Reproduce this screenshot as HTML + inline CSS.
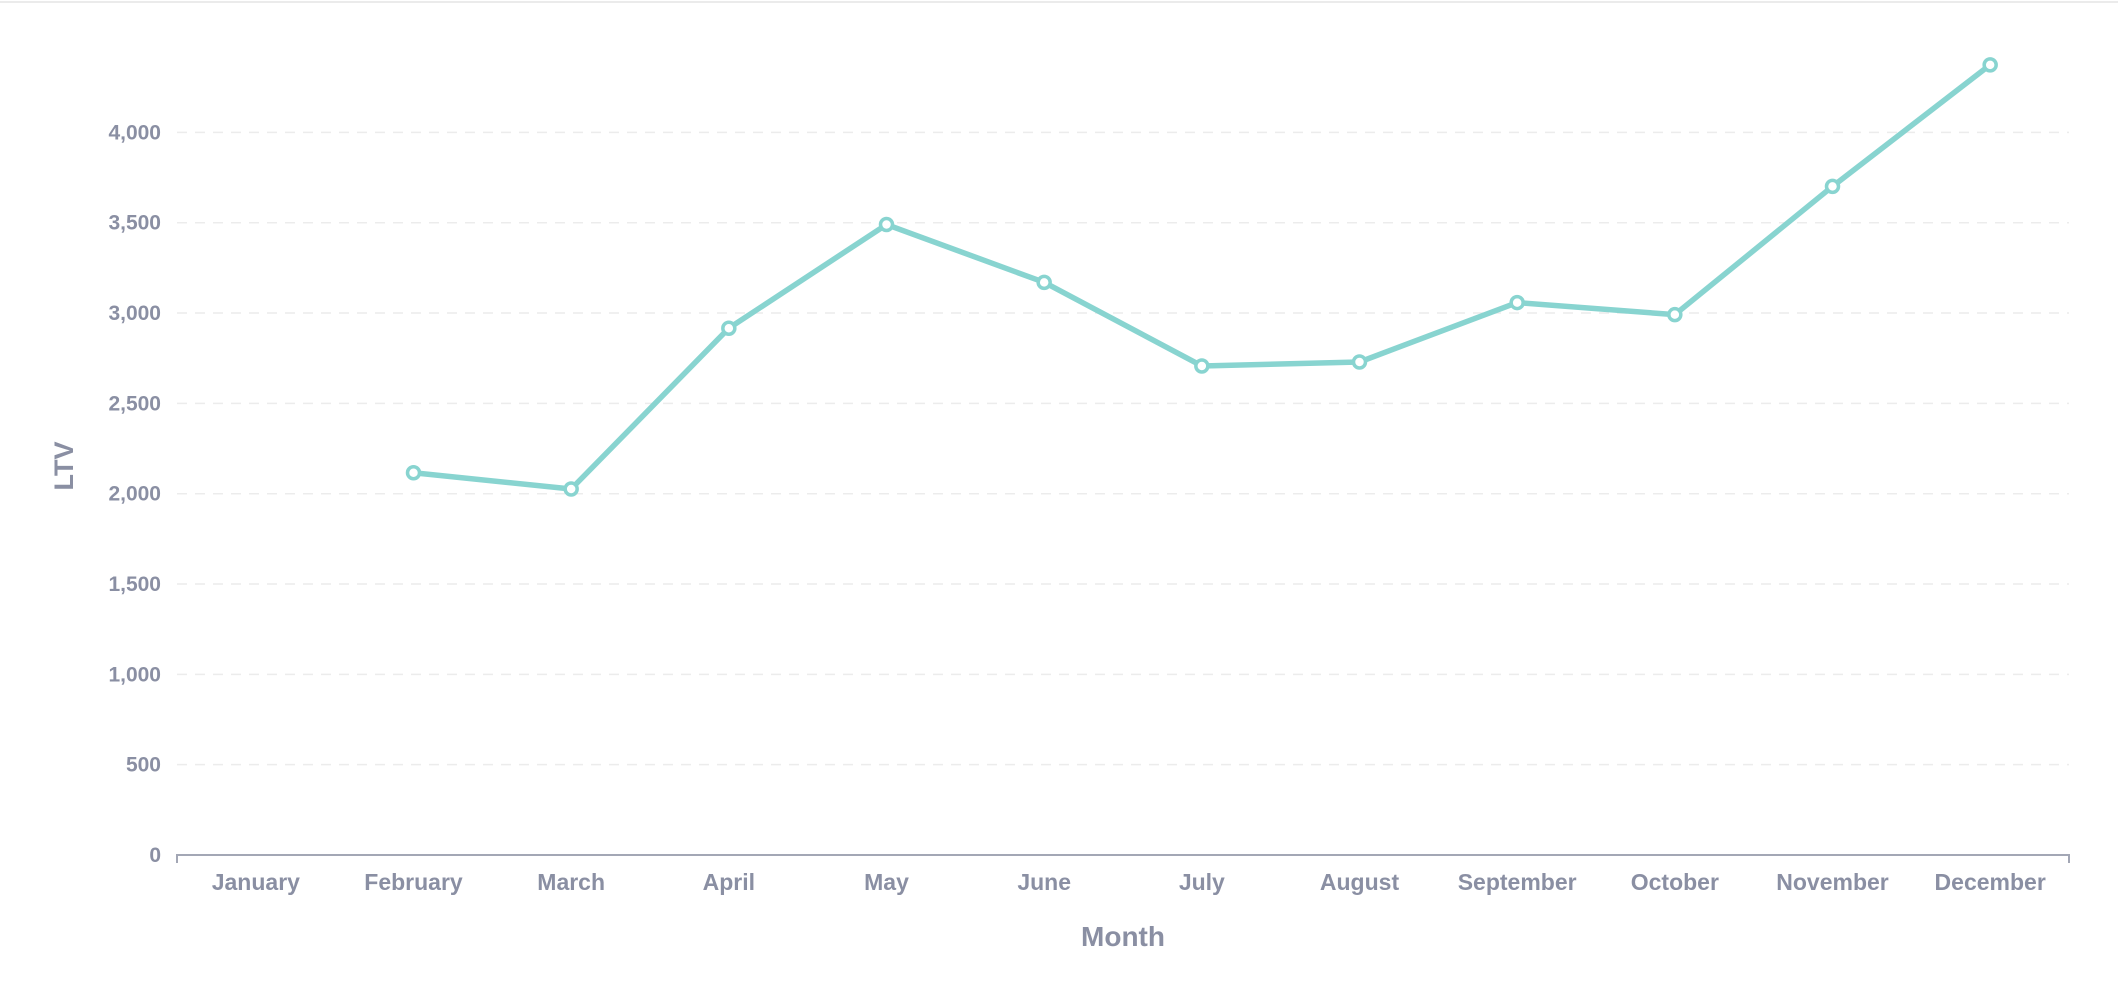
<!DOCTYPE html>
<html><head><meta charset="utf-8"><style>
html,body{margin:0;padding:0;background:#fff;width:2118px;height:982px;overflow:hidden}
svg{display:block;font-family:"Liberation Sans",sans-serif;font-weight:bold}
</style></head><body>
<svg id="chart" width="2118" height="982" viewBox="0 0 2118 982">
<line x1="0" y1="2" x2="2118" y2="2" stroke="#ebebeb" stroke-width="2"/>
<g id="grid"></g>
<g id="yticks"></g>
<g id="xticks"></g>
<g id="series"></g>
<text x="0" y="0" transform="translate(73,466) rotate(-90)" text-anchor="middle" font-size="27" fill="#8a8fa3">LTV</text>
<text x="1123" y="946" text-anchor="middle" font-size="28" fill="#8a8fa3">Month</text>
</svg>
<script>
const categories = ["January","February","March","April","May","June","July","August","September","October","November","December"];
const ltvValues = [null,2116,2026,2916,3490,3170,2707,2729,3058,2991,3701,4374];
const yTicks = [0,500,1000,1500,2000,2500,3000,3500,4000];
const yTickLabels = ["0","500","1,000","1,500","2,000","2,500","3,000","3,500","4,000"];

const NS="http://www.w3.org/2000/svg";
const X0=177,X1=2069,Y0=855,Y4000=132.4;
const band=(X1-X0)/categories.length;
function xs(i){return X0+band*(i+0.5);}
function ys(v){return Y0-(v/4000)*(Y0-Y4000);}
function mk(tag,attrs,parent){const e=document.createElementNS(NS,tag);for(const k in attrs)e.setAttribute(k,attrs[k]);parent.appendChild(e);return e;}
const grid=document.getElementById('grid'),yt=document.getElementById('yticks'),xt=document.getElementById('xticks'),ser=document.getElementById('series');
yTicks.forEach((v,i)=>{
  if(v>0){const g=mk('line',{x1:X0,x2:X1,y1:ys(v),y2:ys(v),stroke:'#ececec','stroke-width':1.5,'stroke-dasharray':'10 8'},grid);
  
  }
  const t=mk('text',{x:161,y:ys(v)+7,'text-anchor':'end','font-size':21,fill:'#8a8fa3'},yt);
  t.textContent=yTickLabels[i];
  
  
});
const ax=mk('path',{d:`M${X0},${Y0+8}V${Y0}H${X1}V${Y0+8}`,fill:'none',stroke:'#a3a7b5','stroke-width':2},xt);


categories.forEach((c,i)=>{
  const t=mk('text',{x:xs(i),y:890,'text-anchor':'middle','font-size':23,fill:'#8a8fa3'},xt);
  t.textContent=c;
  
  
});
let d='';
ltvValues.forEach((v,i)=>{if(v==null)return;d+=(d?'L':'M')+xs(i)+','+ys(v);});
const p=mk('path',{d:d,fill:'none',stroke:'#88d4d0','stroke-width':5.5,'stroke-linejoin':'round'},ser);


ltvValues.forEach((v,i)=>{if(v==null)return;
  const c=mk('circle',{cx:xs(i),cy:ys(v),r:6,fill:'#fff',stroke:'#88d4d0','stroke-width':3.5},ser);
  
  
});
</script>
</body></html>
